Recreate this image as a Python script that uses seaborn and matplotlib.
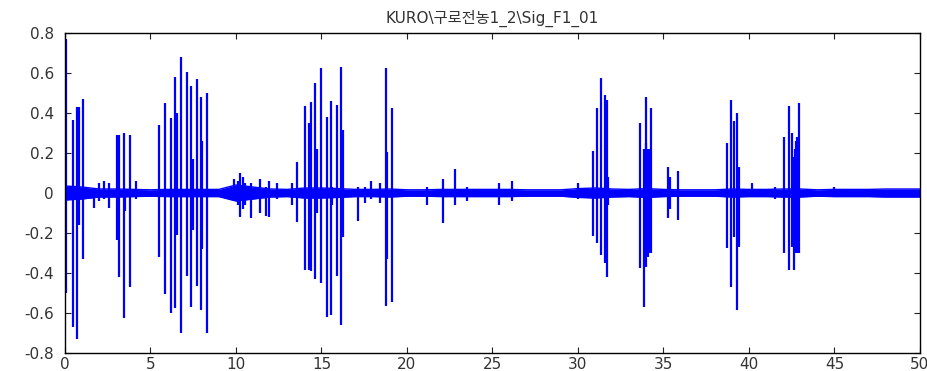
import numpy as np
import pandas as pd
import matplotlib
matplotlib.use('Agg')
import matplotlib.pyplot as plt
import seaborn as sns

# Data
# spikes: time (s), positive peak, negative peak
spike_t = [0.05, 0.45, 0.68, 0.80, 1.03, 1.70, 2.00, 2.30, 2.60,
           3.06, 3.17, 3.45, 3.52, 3.80, 4.15,
           5.52, 5.87, 6.22, 6.43, 6.53, 6.80, 7.11, 7.35, 7.47, 7.70, 7.93, 8.01, 8.28,
           9.90, 10.10, 10.24, 10.40, 10.55, 10.86, 11.40, 11.74, 11.95, 12.40, 13.30, 13.59,
           14.04, 14.27, 14.40, 14.60, 14.76, 14.99, 15.30, 15.55, 15.62, 15.89, 16.14, 16.24,
           17.15, 17.56, 17.88, 18.42, 18.79, 18.85, 19.14,
           21.19, 22.12, 22.81, 23.50, 25.36, 26.16, 30.00,
           30.86, 31.09, 31.36, 31.56, 31.68, 31.78,
           33.63, 33.88, 33.95, 34.00, 34.06, 34.12, 34.18, 34.25, 35.26, 35.40, 35.83,
           38.69, 38.95, 39.14, 39.28, 39.42, 40.20, 41.50,
           42.06, 42.31, 42.54, 42.63, 42.70, 42.75, 42.82, 42.91, 45.00]
spike_hi = [0.77, 0.365, 0.43, 0.43, 0.47, 0.02, 0.05, 0.06, 0.05,
            0.29, 0.29, 0.30, 0.02, 0.29, 0.06,
            0.34, 0.45, 0.375, 0.58, 0.40, 0.68, 0.605, 0.535, 0.17, 0.57, 0.48, 0.26, 0.50,
            0.07, 0.06, 0.10, 0.08, 0.05, 0.05, 0.07, 0.03, 0.06, 0.05, 0.05, 0.155,
            0.435, 0.35, 0.455, 0.55, 0.22, 0.625, 0.38, 0.46, 0.03, 0.44, 0.63, 0.315,
            0.03, 0.03, 0.06, 0.05, 0.625, 0.205, 0.425,
            0.03, 0.07, 0.12, 0.03, 0.05, 0.06, 0.05,
            0.21, 0.425, 0.575, 0.49, 0.465, 0.08,
            0.35, 0.22, 0.25, 0.48, 0.22, 0.215, 0.22, 0.425, 0.13, 0.08, 0.11,
            0.25, 0.465, 0.36, 0.40, 0.13, 0.05, 0.03,
            0.28, 0.435, 0.30, 0.18, 0.22, 0.26, 0.28, 0.45, 0.03]
spike_lo = [-0.50, -0.67, -0.73, -0.16, -0.33, -0.075, -0.04, -0.03, -0.075,
            -0.235, -0.42, -0.625, -0.09, -0.47, -0.03,
            -0.32, -0.505, -0.60, -0.575, -0.21, -0.70, -0.415, -0.57, -0.185, -0.465, -0.585, -0.28, -0.70,
            -0.03, -0.06, -0.12, -0.08, -0.06, -0.125, -0.10, -0.115, -0.12, -0.03, -0.06, -0.145,
            -0.385, -0.385, -0.39, -0.43, -0.10, -0.45, -0.62, -0.61, -0.06, -0.415, -0.66, -0.22,
            -0.14, -0.05, -0.03, -0.05, -0.565, -0.33, -0.545,
            -0.06, -0.15, -0.06, -0.04, -0.06, -0.04, -0.03,
            -0.215, -0.25, -0.31, -0.35, -0.42, -0.06,
            -0.375, -0.57, -0.30, -0.37, -0.32, -0.32, -0.30, -0.30, -0.125, -0.08, -0.135,
            -0.275, -0.47, -0.22, -0.585, -0.27, -0.02, -0.03,
            -0.30, -0.385, -0.27, -0.385, -0.30, -0.19, -0.30, -0.30, -0.02]

# background noise band half-width, one value per second
noise_t = list(range(0, 51))
noise_amp = [0.035, 0.03, 0.02, 0.02, 0.018, 0.016, 0.018, 0.018, 0.018, 0.018,
             0.04, 0.03, 0.02, 0.018, 0.025, 0.025, 0.022, 0.018, 0.018, 0.02,
             0.016, 0.016, 0.018, 0.018, 0.018, 0.018, 0.018, 0.016, 0.016, 0.016,
             0.022, 0.025, 0.02, 0.018, 0.022, 0.018, 0.016, 0.016, 0.016, 0.02,
             0.018, 0.018, 0.02, 0.02, 0.016, 0.018, 0.018, 0.018, 0.02, 0.02, 0.02]

title = 'KURO\\구로전농1_2\\Sig_F1_01'
x_ticks = [0, 5, 10, 15, 20, 25, 30, 35, 40, 45, 50]
y_ticks = [-0.8, -0.6, -0.4, -0.2, 0, 0.2, 0.4, 0.6, 0.8]
y_labels = ['-0.8', '-0.6', '-0.4', '-0.2', '0', '0.2', '0.4', '0.6', '0.8']

sns.set_theme(style='white')
plt.rcParams['font.family'] = ['DejaVu Sans', 'Noto Sans CJK KR']
blue = '#0000FF'

noise = pd.DataFrame({'t': noise_t, 'up': noise_amp, 'down': [-a for a in noise_amp]})

fig = plt.figure(figsize=(9.28, 3.71), dpi=100)
ax = fig.add_axes([65 / 928, 18 / 371, 855 / 928, 320 / 371])

ax.fill_between(noise['t'], noise['down'], noise['up'], color=blue, lw=0)
sns.lineplot(data=noise, x='t', y='up', color=blue, lw=1, ax=ax)
sns.lineplot(data=noise, x='t', y='down', color=blue, lw=1, ax=ax)
ax.vlines(spike_t, spike_lo, spike_hi, color=blue, lw=1.6)

ax.set_xlim(0, 50)
ax.set_ylim(-0.8, 0.8)
ax.set_xticks(x_ticks)
ax.set_yticks(y_ticks)
ax.set_yticklabels(y_labels)
ax.set_xlabel('')
ax.set_ylabel('')
ax.tick_params(direction='in', length=4, width=0.8, top=True, right=True,
               bottom=True, left=True, labelsize=11, labelcolor='#333333', colors='#222222')
ax.tick_params(axis='y', pad=8)
ax.tick_params(axis='x', pad=3)
for s in ax.spines.values():
    s.set_color('black')
    s.set_linewidth(1)
ax.set_title(title, fontsize=11, color='#333333', pad=7)

fig.savefig('out.png', dpi=100)
